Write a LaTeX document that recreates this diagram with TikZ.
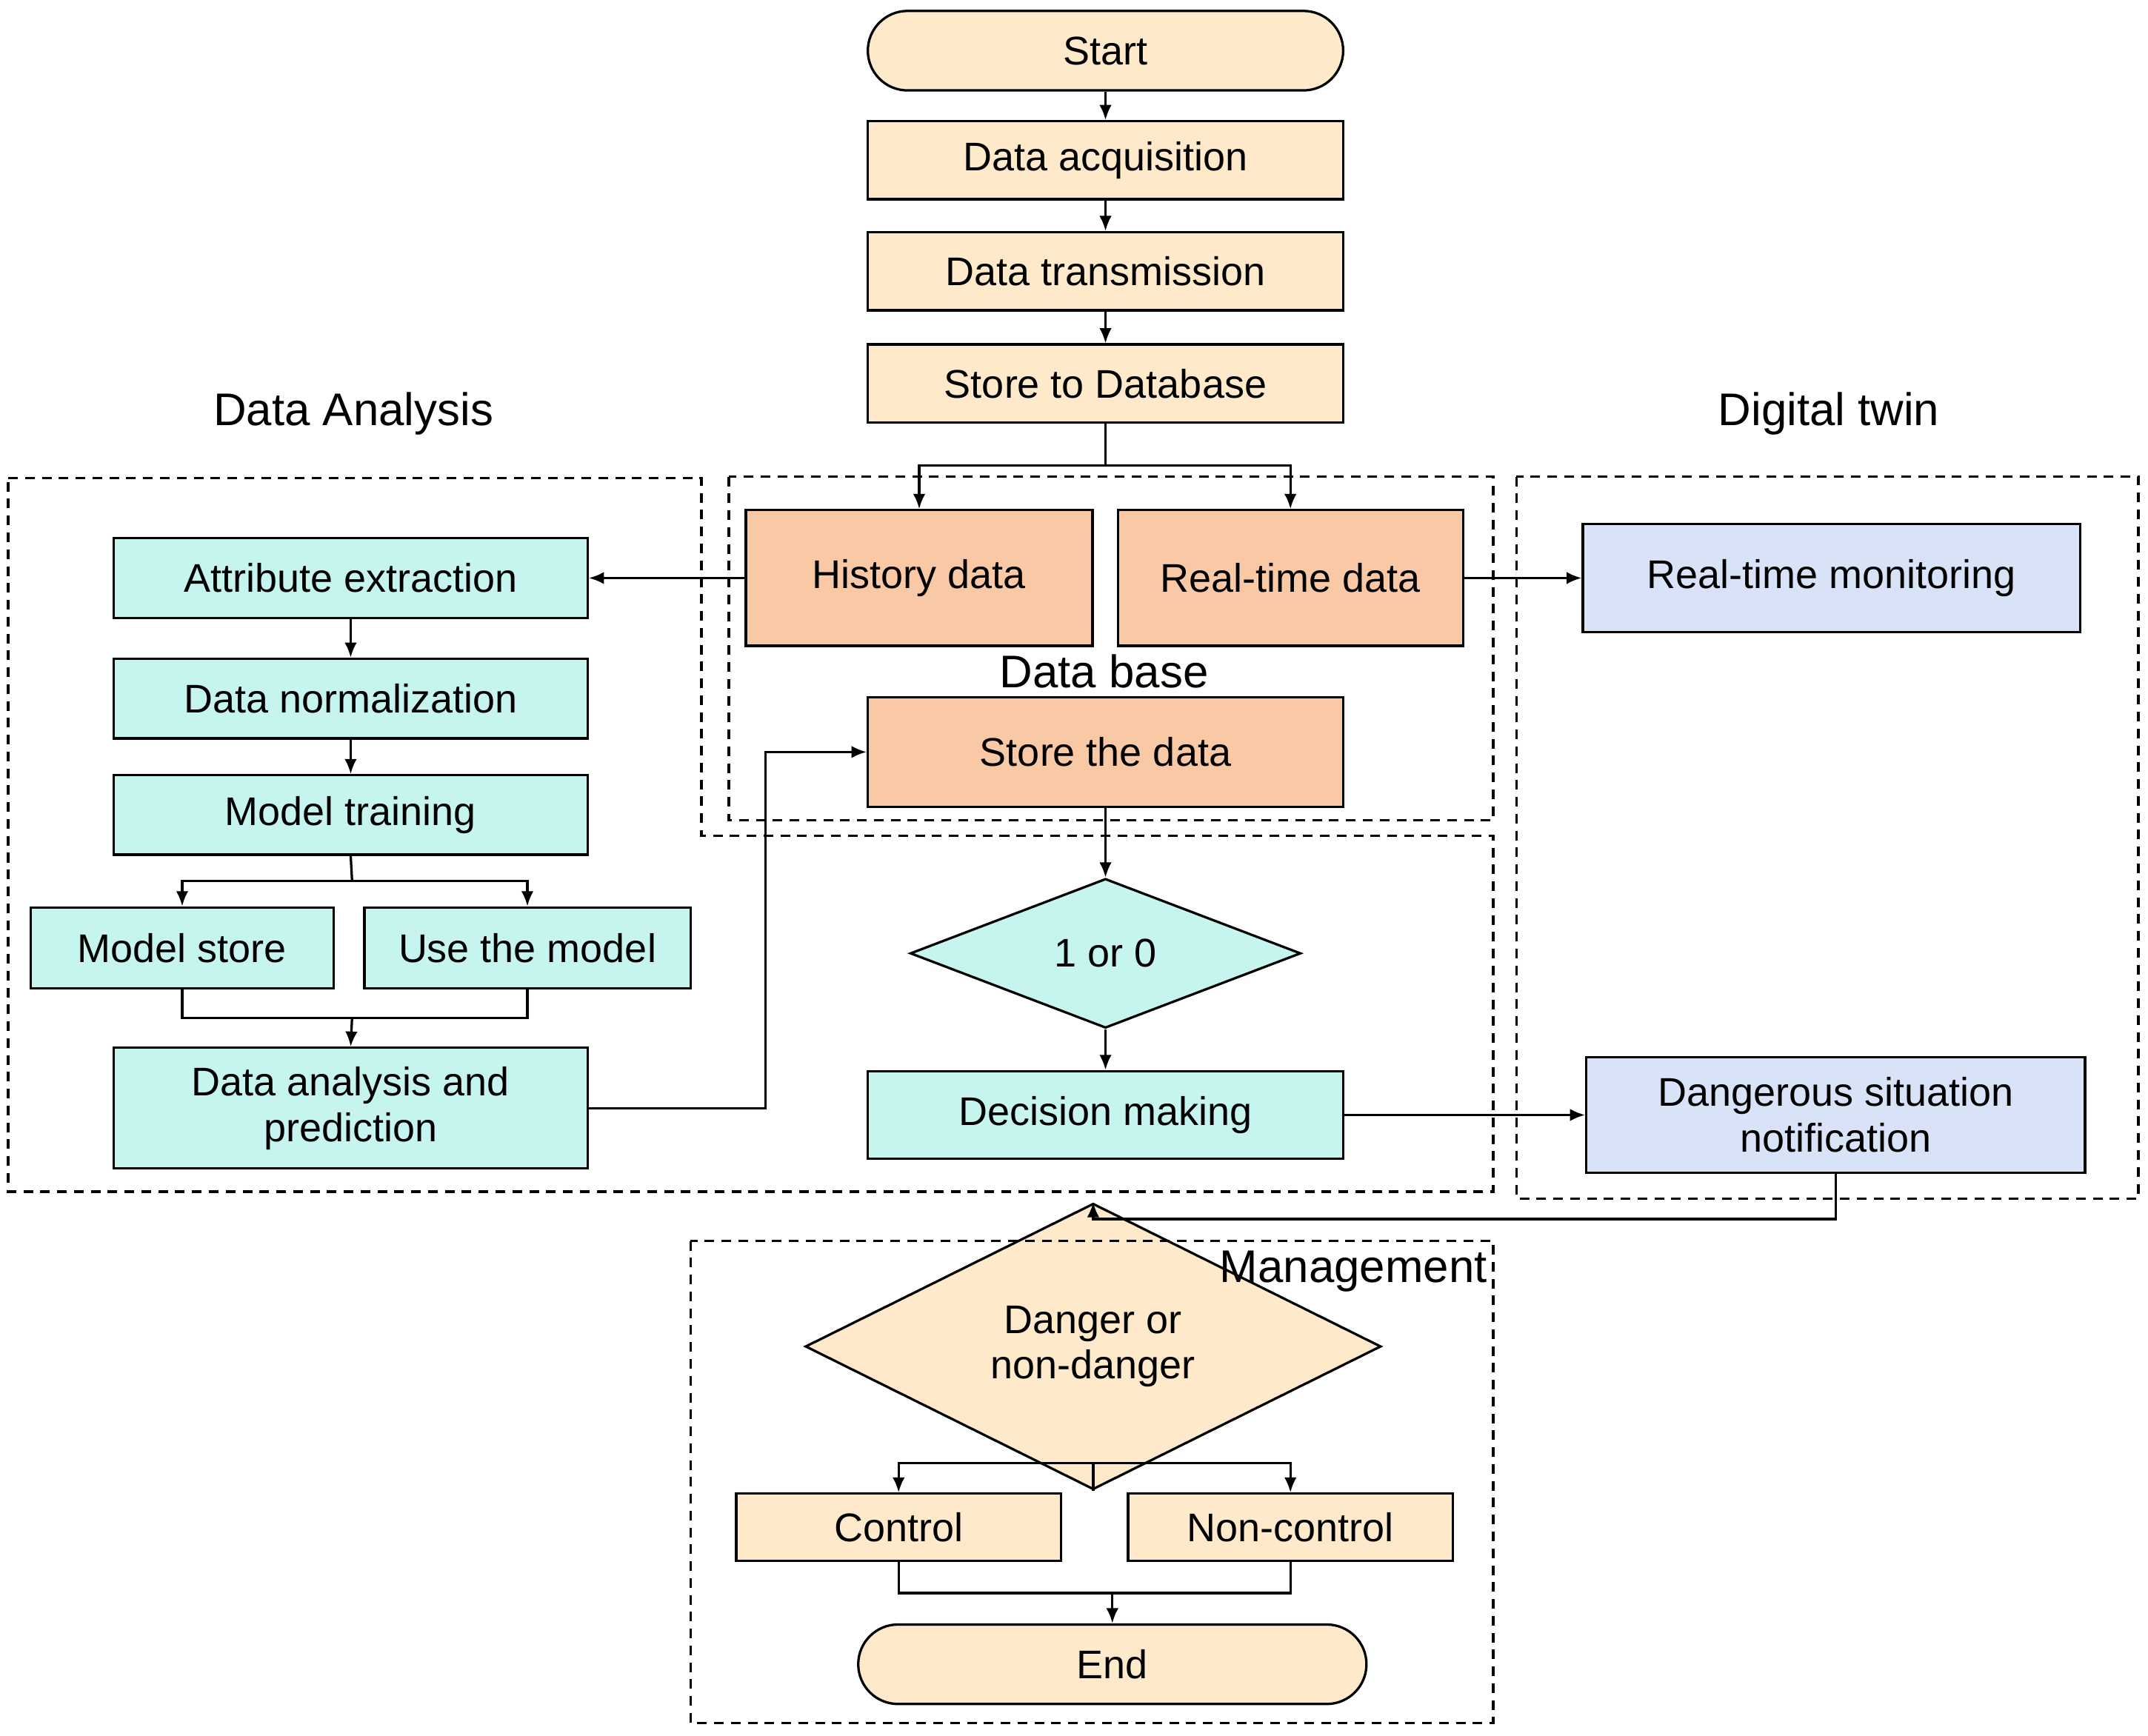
\documentclass[tikz,border=0pt]{standalone}
\usepackage{fontspec}
\setmainfont{Liberation Sans}
\usetikzlibrary{shapes.geometric,arrows.meta}
\definecolor{peach}{HTML}{FEE9CB}
\definecolor{salmon}{HTML}{F9C9A6}
\definecolor{cyanb}{HTML}{C6F5EF}
\definecolor{blueb}{HTML}{D9E3F8}
\begin{document}
\begin{tikzpicture}[x=0.01cm,y=-0.01cm,
 every node/.style={font=\fontsize{8.3}{9.5}\selectfont,align=center,inner sep=0pt},
 box/.style={draw,line width=0.5pt,minimum width=#1*0.01cm},
 arr/.style={-{Latex[length=1.1mm,width=0.9mm]},line width=0.5pt},
 ln/.style={line width=0.5pt},
 region/.style={line width=0.5pt,dash pattern=on 2pt off 1.5pt},
 lab/.style={font=\fontsize{9.5}{11}\selectfont}]
\useasboundingbox (0,0) rectangle (1568,1267);
% boxes
\node[box=347,fill=peach,rounded corners=0.29cm,minimum height=0.58cm] (start) at (807,37) {Start};
\node[box=347,fill=peach,minimum height=0.57cm] (acq) at (807,117) {Data acquisition};
\node[box=347,fill=peach,minimum height=0.57cm] (tr) at (807,198) {Data transmission};
\node[box=347,fill=peach,minimum height=0.57cm] (st) at (807,280) {Store to Database};
\node[box=253,fill=salmon,minimum height=0.99cm] (hist) at (671,422) {History data};
\node[box=252,fill=salmon,minimum height=0.99cm] (rt) at (942,422) {Real-time data};
\node[box=347,fill=salmon,minimum height=0.80cm] (store) at (807,549) {Store the data};
\node[lab] (db) at (806,490) {Data base};
\node[box=363,fill=blueb,minimum height=0.79cm] (mon) at (1337,422) {Real-time monitoring};
\node[box=346,fill=cyanb,minimum height=0.58cm] (attr) at (256,422) {Attribute extraction};
\node[box=346,fill=cyanb,minimum height=0.58cm] (norm) at (256,510) {Data normalization};
\node[box=346,fill=cyanb,minimum height=0.58cm] (train) at (256,595) {Model training};
\node[box=221,fill=cyanb,minimum height=0.59cm] (ms) at (133,692) {Model store};
\node[box=238,fill=cyanb,minimum height=0.59cm] (use) at (385,692) {Use the model};
\node[box=346,fill=cyanb,minimum height=0.88cm] (dap) at (256,809) {Data analysis and\\prediction};
\node[diamond,draw,line width=0.5pt,fill=cyanb,minimum width=2.85cm,minimum height=1.09cm] (d10) at (807,696) {1 or 0};
\node[box=347,fill=cyanb,minimum height=0.64cm] (dec) at (807,814) {Decision making};
\node[box=364,fill=blueb,minimum height=0.84cm] (dang) at (1340,814) {Dangerous situation\\notification};
\node[diamond,draw,line width=0.5pt,fill=peach,minimum width=4.2cm,minimum height=1.21cm] (dd) at (798,983) {Danger or\\non-danger};
\node[box=237,fill=peach,minimum height=0.49cm] (ctl) at (656,1115) {Control};
\node[box=237,fill=peach,minimum height=0.49cm] (nctl) at (942,1115) {Non-control};
\node[box=371,fill=peach,rounded corners=0.29cm,minimum height=0.58cm] (end) at (812,1215) {End};
% labels
\node[lab] (la) at (258,302) {Data Analysis};
\node[lab] (ld) at (1335,302) {Digital twin};
\node[lab] (lm) at (988,928) {Management};
% dashed regions
\draw[region] (532,348) rectangle (1090,599);
\draw[region] (6,349) -- (512,349) -- (512,610) -- (1090,610) -- (1090,870) -- (6,870) -- cycle;
\draw[region] (1107,348) rectangle (1561,875);
\draw[region] (504,906) rectangle (1090,1258);
% connectors
\draw[arr] (start) -- (acq);
\draw[arr] (acq) -- (tr);
\draw[arr] (tr) -- (st);
\draw[ln] (st.south) -- (807,340);
\draw[arr] (807,340) -| (hist.north);
\draw[arr] (807,340) -| (rt.north);
\draw[arr] (hist) -- (attr);
\draw[arr] (rt) -- (mon);
\draw[arr] (attr) -- (norm);
\draw[arr] (norm) -- (train);
\draw[ln] (train.south) -- (257,643);
\draw[arr] (257,643) -| (ms.north);
\draw[arr] (257,643) -| (use.north);
\draw[ln] (ms.south) |- (257,743) -| (use.south);
\draw[arr] (257,743) -- (dap.north);
\draw[arr] (dap.east) -- (559,809) |- (store.west);
\draw[arr] (store) -- (d10);
\draw[arr] (d10) -- (dec);
\draw[arr] (dec) -- (dang);
\draw[arr] (dang.south) |- (798,890) -- (dd.north);
\draw[ln] (dd.south) -- (798,1068);
\draw[arr] (798,1068) -| (ctl.north);
\draw[arr] (798,1068) -| (nctl.north);
\draw[ln] (ctl.south) |- (812,1163) -| (nctl.south);
\draw[arr] (812,1163) -- (end.north);
\end{tikzpicture}
\end{document}
